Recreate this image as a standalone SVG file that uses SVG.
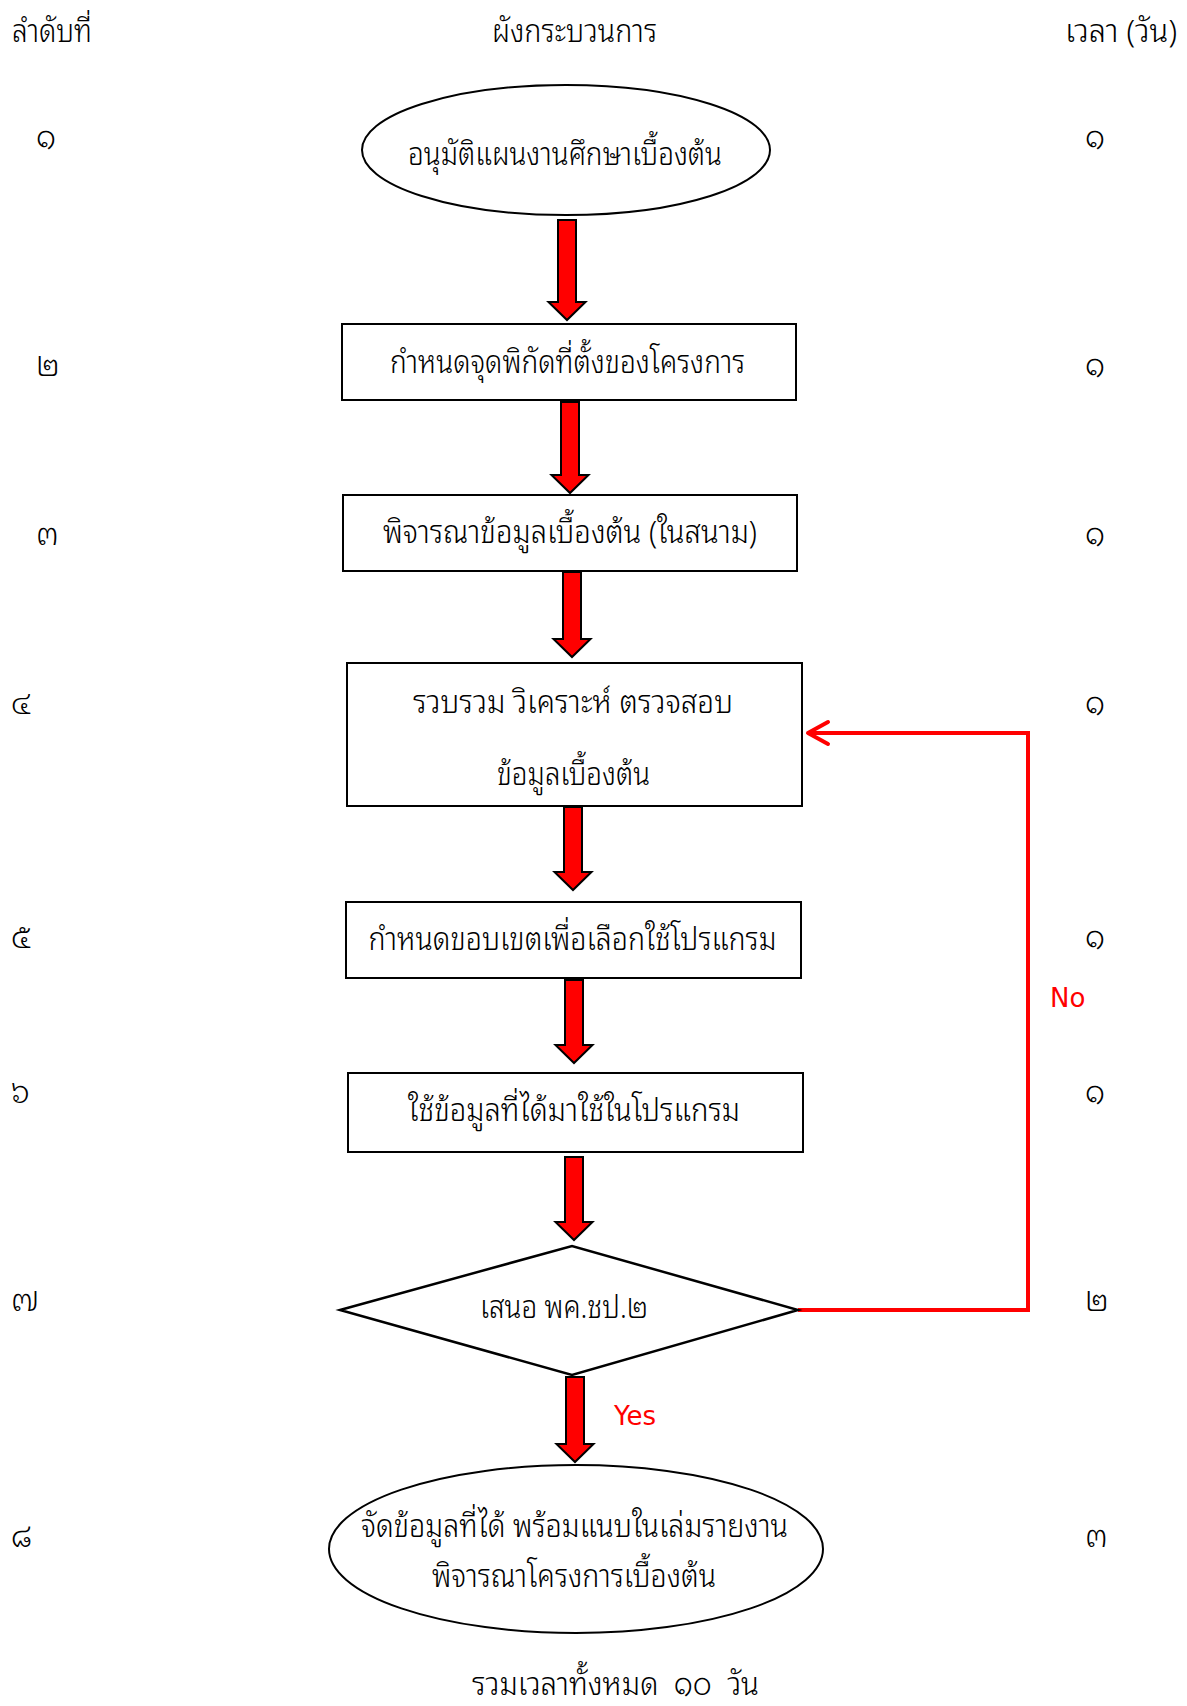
<svg xmlns="http://www.w3.org/2000/svg" width="1187" height="1706" viewBox="0 0 1187 1706">
  <style>
    .t { font-family: "Noto Sans Thai Looped", "Noto Sans Thai", "Noto Sans", "DejaVu Sans", sans-serif; font-weight: 300; fill: #000; }
    .hd { font-size: 31px; }
    .nd { font-size: 32px; text-anchor: middle; }
    .num { font-size: 31px; }
    .lbl { font-family: "DejaVu Sans", "Noto Sans", sans-serif; font-size: 26px; fill: #ff0000; }
    .shape { fill: #fff; stroke: #000; stroke-width: 2; }
    .blk { fill: #ff0000; stroke: #000; stroke-width: 2; stroke-linejoin: miter; }
    .fb { fill: none; stroke: #ff0000; stroke-width: 4; }
  </style>
  <defs>
    <marker id="chev" markerUnits="userSpaceOnUse" viewBox="-26 -15 30 30" refX="0" refY="0" markerWidth="30" markerHeight="30" orient="auto" overflow="visible">
      <path d="M -20 -11 L 0 0 L -20 11" fill="none" stroke="#ff0000" stroke-width="4" stroke-linecap="round" stroke-linejoin="round"/>
    </marker>
  </defs>
  <rect width="1187" height="1706" fill="#fff"/>

  <g id="headers" class="t hd">
    <text x="12" y="42" textLength="80" lengthAdjust="spacingAndGlyphs">ลำดับที่</text>
    <text x="574.5" y="42" text-anchor="middle" textLength="165" lengthAdjust="spacingAndGlyphs">ผังกระบวนการ</text>
    <text x="1177" y="42" text-anchor="end" textLength="112" lengthAdjust="spacingAndGlyphs">เวลา (วัน)</text>
  </g>

  <g id="order-numbers" class="t num">
    <text x="36" y="148">๑</text>
    <text x="36" y="376">๒</text>
    <text x="36" y="545">๓</text>
    <text x="11" y="714">๔</text>
    <text x="11" y="948">๕</text>
    <text x="11" y="1103">๖</text>
    <text x="11" y="1311">๗</text>
    <text x="11" y="1547">๘</text>
  </g>

  <g id="time-numbers" class="t num">
    <text x="1085" y="148">๑</text>
    <text x="1085" y="376">๑</text>
    <text x="1085" y="545">๑</text>
    <text x="1085" y="714">๑</text>
    <text x="1085" y="948">๑</text>
    <text x="1085" y="1103">๑</text>
    <text x="1085" y="1311">๒</text>
    <text x="1085" y="1547">๓</text>
  </g>

  <g id="connectors">
    <path class="blk" d="M558 220 H576 V302 H585.5 L567 320 L548.5 302 H558 Z"/>
    <path class="blk" d="M561 402 H579 V475 H588.5 L570 493 L551.5 475 H561 Z"/>
    <path class="blk" d="M563 572 H581 V639 H590.5 L572 657 L553.5 639 H563 Z"/>
    <path class="blk" d="M564 807 H582 V872 H591.5 L573 890 L554.5 872 H564 Z"/>
    <path class="blk" d="M565 980 H583 V1045 H592.5 L574 1063 L555.5 1045 H565 Z"/>
    <path class="blk" d="M565 1157 H583 V1222 H592.5 L574 1240 L555.5 1222 H565 Z"/>
    <path class="blk" d="M566 1377 H584 V1444 H593.5 L575 1462 L556.5 1444 H566 Z"/>
    <path class="fb" d="M798 1310 H1028 V733 H808" marker-end="url(#chev)"/>
    <text class="lbl" x="1050" y="1007">No</text>
    <text class="lbl" x="614" y="1425">Yes</text>
  </g>

  <g id="n1">
    <ellipse class="shape" cx="566" cy="150" rx="204" ry="65"/>
    <text class="t nd" x="565" y="165" textLength="314" lengthAdjust="spacingAndGlyphs">อนุมัติแผนงานศึกษาเบื้องต้น</text>
  </g>
  <g id="n2">
    <rect class="shape" x="342" y="324" width="454" height="76"/>
    <text class="t nd" x="567.5" y="373" textLength="355" lengthAdjust="spacingAndGlyphs">กำหนดจุดพิกัดที่ตั้งของโครงการ</text>
  </g>
  <g id="n3">
    <rect class="shape" x="343" y="495" width="454" height="76"/>
    <text class="t nd" x="570" y="543" textLength="374" lengthAdjust="spacingAndGlyphs">พิจารณาข้อมูลเบื้องต้น (ในสนาม)</text>
  </g>
  <g id="n4">
    <rect class="shape" x="347" y="663" width="455" height="143"/>
    <text class="t nd" x="573" y="713" textLength="320" lengthAdjust="spacingAndGlyphs">รวบรวม วิเคราะห์ ตรวจสอบ</text>
    <text class="t nd" x="573.5" y="785" textLength="153" lengthAdjust="spacingAndGlyphs">ข้อมูลเบื้องต้น</text>
  </g>
  <g id="n5">
    <rect class="shape" x="346" y="902" width="455" height="76"/>
    <text class="t nd" x="572.5" y="950" textLength="408" lengthAdjust="spacingAndGlyphs">กำหนดขอบเขตเพื่อเลือกใช้โปรแกรม</text>
  </g>
  <g id="n6">
    <rect class="shape" x="348" y="1073" width="455" height="79"/>
    <text class="t nd" x="574" y="1121" textLength="332" lengthAdjust="spacingAndGlyphs">ใช้ข้อมูลที่ได้มาใช้ในโปรแกรม</text>
  </g>
  <g id="n7">
    <polygon class="shape" style="stroke-width:2.5" points="340,1310 572,1246 798,1310 572,1375"/>
    <text class="t nd" x="564" y="1318" textLength="168" lengthAdjust="spacingAndGlyphs">เสนอ พค.ชป.๒</text>
  </g>
  <g id="n8">
    <ellipse class="shape" cx="576" cy="1549" rx="247" ry="84"/>
    <text class="t nd" x="574.5" y="1537" textLength="427" lengthAdjust="spacingAndGlyphs">จัดข้อมูลที่ได้ พร้อมแนบในเล่มรายงาน</text>
    <text class="t nd" x="574" y="1587" textLength="284" lengthAdjust="spacingAndGlyphs">พิจารณาโครงการเบื้องต้น</text>
  </g>

  <g id="total">
    <text class="t nd" x="615.5" y="1695" xml:space="preserve" textLength="287" lengthAdjust="spacingAndGlyphs">รวมเวลาทั้งหมด  ๑๐  วัน</text>
  </g>
</svg>
